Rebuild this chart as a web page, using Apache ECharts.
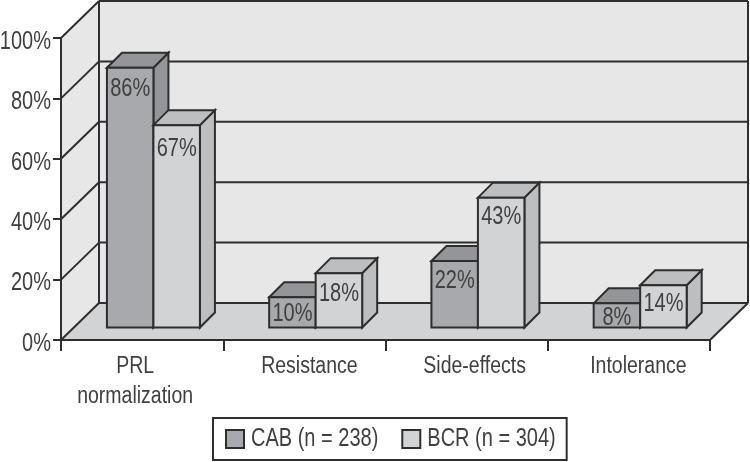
<!DOCTYPE html>
<html>
<head>
<meta charset="utf-8">
<style>html,body{margin:0;padding:0;background:#fff}#chart{width:750px;height:462px}</style>
<script src="https://cdn.jsdelivr.net/npm/echarts@6/dist/echarts.min.js"></script>
</head>
<body>
<div id="chart"></div>
<script>
const categories = ['PRL\nnormalization', 'Resistance', 'Side-effects', 'Intolerance'];
const cabValues = [86, 10, 22, 8];
const bcrValues = [67, 18, 43, 14];
const yTicks = [0, 20, 40, 60, 80, 100];
const seriesNames = ['CAB (n = 238)', 'BCR (n = 304)'];

const ink = '#2e2e2e', textInk = '#404040';
const font = '"Liberation Sans", Arial, sans-serif';
const fontSize = 20;
const textStretch = 1.25;
const labelShift = [-7, 5, 8, 9.5];
const cabLabelNudge = [2, -3, 1, -5];
const bcrLabelNudge = [4, 1, 0, -1];
const wallDepthX = 38, wallDepthY = 37, barInsetX = 11.3, barInsetY = 12.5, barDepth = 15, barRatio = 46.5 / 162.25;

function poly(points, fill, stroke) {
  return { type: 'polygon', shape: { points }, style: { fill, stroke: stroke || ink, lineWidth: 2, lineJoin: 'miter' } };
}
function line(x1, y1, x2, y2, w) {
  return { type: 'line', shape: { x1, y1, x2, y2 }, style: { stroke: ink, lineWidth: w || 2 } };
}

function renderWall(params, api) {
  const cs = params.coordSys, dx = wallDepthX, dy = wallDepthY;
  const tick = api.value(1), y = api.coord([0, tick])[1];
  const L = cs.x, R = cs.x + cs.width, T = cs.y, B = cs.y + cs.height;
  const children = [];
  if (tick === 0) {
    children.push(
      { type: 'rect', shape: { x: L + dx, y: T - dy, width: R - L, height: B - T }, style: { fill: '#e7e7e8' } },
      { type: 'polygon', shape: { points: [[L, T], [L + dx, T - dy], [L + dx, B - dy], [L, B]] }, style: { fill: '#e7e7e8' } },
      { type: 'polygon', shape: { points: [[L, B], [L + dx, B - dy], [R + dx, B - dy], [R, B]] }, style: { fill: '#d1d3d4' } },
      line(L + dx, T - dy, L + dx, B - dy),
      line(R + dx, T - dy, R + dx, B - dy),
      line(R, B, R + dx, B - dy)
    );
  }
  children.push(line(L, y, L + dx, y - dy), line(L + dx, y - dy, R + dx, y - dy));
  return { type: 'group', children };
}

function makeBar(slot, front, shade, nudges) {
  return function (params, api) {
    const c = api.value(0), v = api.value(1);
    const base = api.coord([c, 0]), top = api.coord([c, v]);
    const w = api.size([1, 0])[0] * barRatio;
    const x0 = base[0] + barInsetX + (slot === 0 ? -w : 0);
    const x1 = x0 + w;
    const yb = base[1] - barInsetY, yt = top[1] - barInsetY, k = barDepth;
    return {
      type: 'group',
      children: [
        poly([[x1, yt], [x1 + k, yt - k], [x1 + k, yb - k], [x1, yb]], shade),
        poly([[x0, yt], [x0 + k, yt - k], [x1 + k, yt - k], [x1, yt]], shade),
        poly([[x0, yt], [x1, yt], [x1, yb], [x0, yb]], front),
        {
          type: 'text',
          style: {
            x: (x0 + x1) / 2, y: yt + 19.5 + nudges[c], text: api.value(1) + '%', align: 'center', verticalAlign: 'middle',
            fill: textInk, font: fontSize + 'px ' + font
          }
        }
      ]
    };
  };
}

const chart = echarts.init(document.getElementById('chart'), null, { renderer: 'canvas' });
chart.setOption({
  animation: false,
  backgroundColor: '#ffffff',
  grid: { left: 61, right: 40, top: 38, bottom: 122, containLabel: false, outerBoundsMode: 'none' },
  legend: {
    left: 213, top: 418,
    data: seriesNames,
    orient: 'horizontal',
    itemWidth: 18, itemHeight: 18, itemGap: 23,
    padding: [11, 11, 11, 12],
    borderColor: ink, borderWidth: 2, backgroundColor: '#fff',
    icon: 'rect',
    selectedMode: false,
    textStyle: { fontFamily: font, fontSize, color: textInk, padding: [2, 0, 0, 2] }
  },
  xAxis: {
    type: 'category',
    data: categories.map((value, i) => ({
      value,
      textStyle: { padding: labelShift[i] > 0 ? [0, 0, 0, 2 * labelShift[i]] : [0, -2 * labelShift[i], 0, 0] }
    })),
    z: 3,
    axisLine: { lineStyle: { color: ink, width: 2 } },
    axisTick: { show: true, length: 11, alignWithLabel: false, lineStyle: { color: ink, width: 2 } },
    axisLabel: { color: textInk, fontFamily: font, fontSize: 19.5, lineHeight: 30, margin: 11, interval: 0, hideOverlap: false }
  },
  yAxis: {
    type: 'value', min: 0, max: 100, interval: 20,
    z: 3,
    axisLine: { show: true, lineStyle: { color: ink, width: 2 } },
    axisTick: { show: true, length: 8, lineStyle: { color: ink, width: 2 } },
    splitLine: { show: false },
    axisLabel: { color: textInk, fontFamily: font, fontSize, margin: 10, verticalAlign: 'top', lineHeight: 8, formatter: '{value}%' }
  },
  series: [
    {
      type: 'custom', name: 'walls', silent: true, z: 1, clip: false, renderItem: renderWall,
      encode: { x: 0, y: 1 },
      data: yTicks.map(t => [0, t])
    },
    {
      type: 'custom', name: seriesNames[0], z: 2, clip: false, renderItem: makeBar(0, '#a7a9ac', '#939598', cabLabelNudge),
      itemStyle: { color: '#a7a9ac', borderColor: ink, borderWidth: 2 },
      encode: { x: 0, y: 1 },
      data: cabValues.map((v, i) => [i, v])
    },
    {
      type: 'custom', name: seriesNames[1], z: 2, clip: false, renderItem: makeBar(1, '#d1d3d4', '#bcbec0', bcrLabelNudge),
      itemStyle: { color: '#d1d3d4', borderColor: ink, borderWidth: 2 },
      encode: { x: 0, y: 1 },
      data: bcrValues.map((v, i) => [i, v])
    }
  ]
});

// The reference's typeface is a tall condensed one: stretch each drawn text line vertically about its own baseline.
const zr = chart.getZr();
zr.refreshImmediately();
zr.storage.getDisplayList(true).forEach(el => {
  if (el.style && typeof el.style.text === 'string' && el.style.text) {
    el.originX = el.style.x;
    el.originY = el.style.y;
    el.scaleY = textStretch;
    el.dirtyTransform && el.dirtyTransform();
    el.markRedraw();
  }
});
zr.refreshImmediately();
</script>
</body>
</html>
